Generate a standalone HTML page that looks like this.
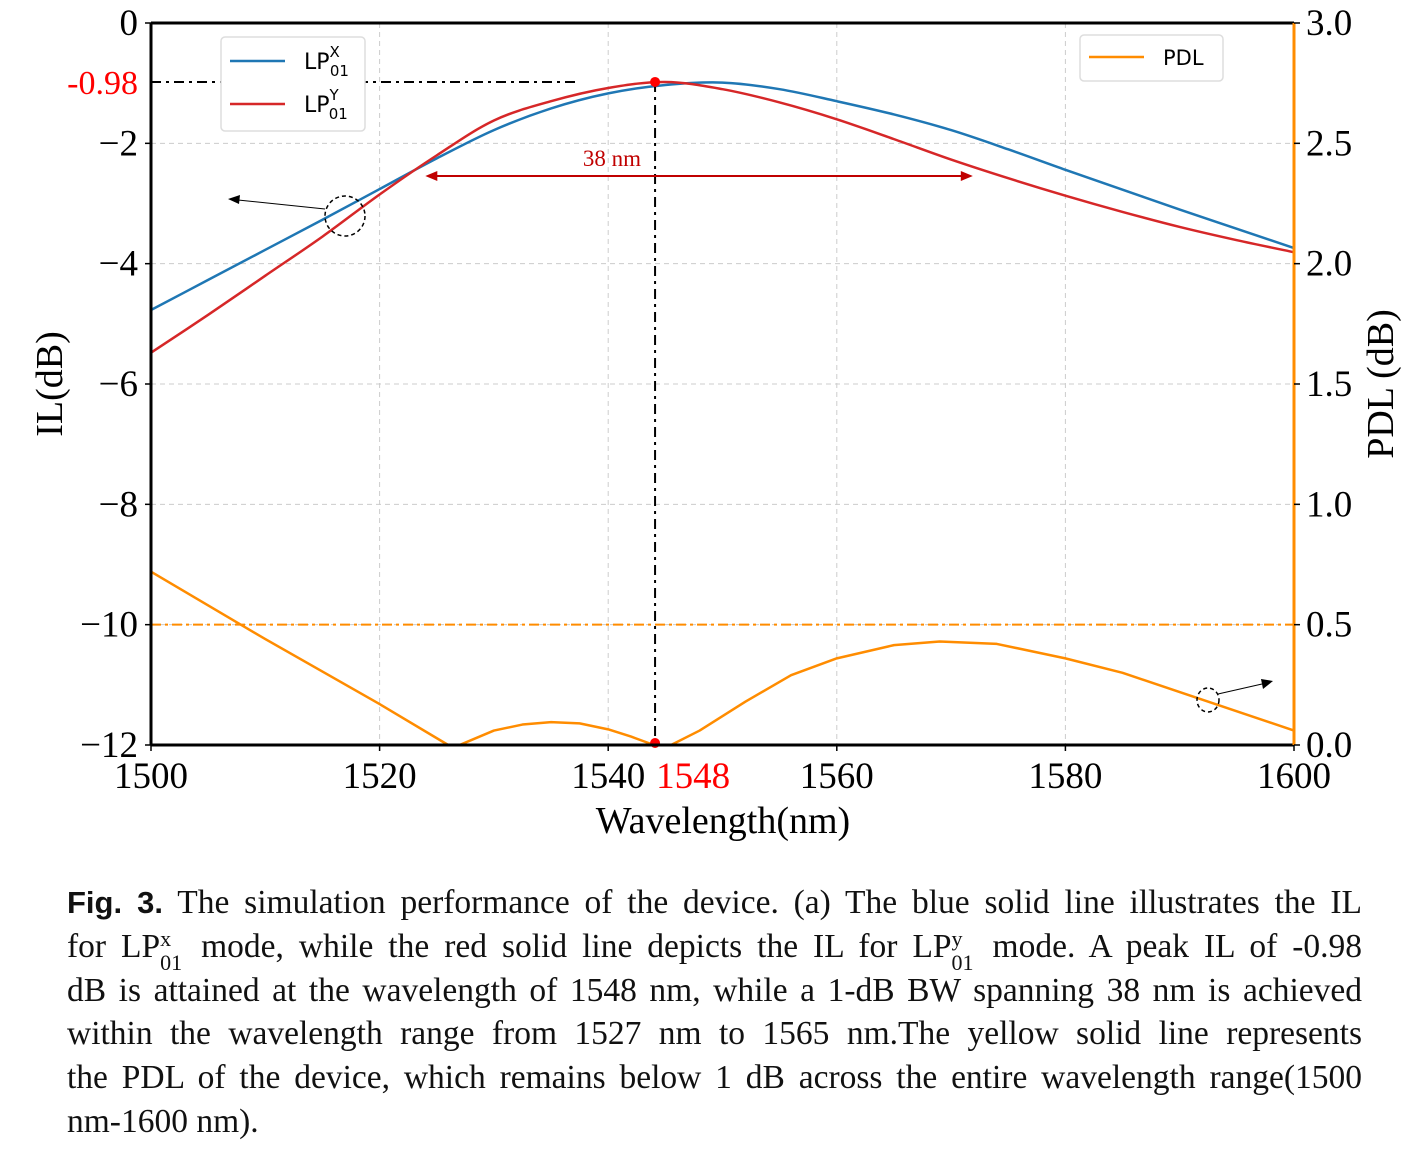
<!DOCTYPE html>
<html><head><meta charset="utf-8"><style>
body{margin:0;background:#fff;width:1415px;height:1153px;overflow:hidden;font-family:"Liberation Serif",serif}
.cap{position:absolute;left:67px;width:1295px;font-size:33.5px;line-height:44px;height:44px;color:#111;text-align:justify;text-align-last:justify;white-space:nowrap}
.cap.last{text-align-last:left}
.ss{display:inline-block;position:relative;width:26px;height:10px;font-size:22px}
.ss i{font-style:normal;position:absolute;left:0}
</style></head><body>
<svg id="chart" width="1415" height="860" style="position:absolute;left:0;top:0"></svg>
<div>
<div class="cap" style="top:881px"><b style="font-family:'Liberation Sans',sans-serif;font-size:31px">Fig. 3.</b> The simulation performance of the device. (a) The blue solid line illustrates the IL</div>
<div class="cap" style="top:925px">for LP<span class="ss"><i style="top:-30px">x</i><i style="top:-6px">01</i></span> mode, while the red solid line depicts the IL for LP<span class="ss"><i style="top:-30px">y</i><i style="top:-6px">01</i></span> mode. A peak IL of -0.98</div>
<div class="cap" style="top:969px">dB is attained at the wavelength of 1548 nm, while a 1-dB BW spanning 38 nm is achieved</div>
<div class="cap" style="top:1012px">within the wavelength range from 1527 nm to 1565 nm.The yellow solid line represents</div>
<div class="cap" style="top:1056px">the PDL of the device, which remains below 1 dB across the entire wavelength range(1500</div>
<div class="cap last" style="top:1100px">nm-1600 nm).</div>
</div>
<script>
const wlX=[1500,1505,1510,1515,1520,1525,1530,1535,1540,1545,1550,1555,1560,1565,1570,1575,1580,1585,1590,1595,1600];
const ilX=[-4.77,-4.27,-3.77,-3.27,-2.76,-2.25,-1.78,-1.42,-1.17,-1.03,-0.99,-1.1,-1.3,-1.52,-1.78,-2.1,-2.44,-2.77,-3.1,-3.42,-3.74];
const ilY=[-5.48,-4.85,-4.2,-3.55,-2.85,-2.2,-1.62,-1.3,-1.08,-0.98,-1.1,-1.32,-1.6,-1.93,-2.27,-2.58,-2.87,-3.14,-3.39,-3.61,-3.81];
const wlP=[1500,1510,1520,1526,1527,1528,1530,1532.5,1535,1537.5,1540,1542,1544,1545.5,1548,1552,1556,1560,1565,1569,1574,1580,1585,1590,1595,1600];
const pdl=[0.72,0.44,0.17,0.0,0.0,0.02,0.06,0.085,0.095,0.09,0.065,0.035,0.0,0.0,0.06,0.18,0.29,0.36,0.415,0.43,0.42,0.36,0.3,0.22,0.14,0.06];
const xTicks=[1500,1520,1540,1560,1580,1600];
const yTicks=[0,-2,-4,-6,-8,-10,-12];
const pTicks=[0,0.5,1.0,1.5,2.0,2.5,3.0];
const peakWl=1544.1, peakIL=-0.98, bwStart=1524, bwEnd=1571.9;
const L=151,R=1294,T=23,B=745;
const sx=w=>L+(w-1500)/100*(R-L);
const sy=v=>T+(-v)/12*(B-T);
const sp=p=>B-p/3*(B-T);
const svg=document.getElementById('chart');
const NS='http://www.w3.org/2000/svg';
function mk(tag,a,parent){const e=document.createElementNS(NS,tag);for(const k in a)e.setAttribute(k,a[k]);(parent||svg).appendChild(e);return e;}
function path(xs,ys){const p=xs.map((x,i)=>[x,ys[i]]);let d='M'+p[0][0]+','+p[0][1];for(let i=0;i<p.length-1;i++){const p0=p[i-1]||p[i],p1=p[i],p2=p[i+1],p3=p[i+2]||p2;d+=` C${p1[0]+(p2[0]-p0[0])/6},${p1[1]+(p2[1]-p0[1])/6} ${p2[0]-(p3[0]-p1[0])/6},${p2[1]-(p3[1]-p1[1])/6} ${p2[0]},${p2[1]}`;}return d;}
function lpath(xs,ys){return xs.map((x,i)=>(i?'L':'M')+x+','+ys[i]).join(' ');}
xTicks.forEach(t=>{const g=mk('line',{x1:sx(t),x2:sx(t),y1:T,y2:B,stroke:'#ccc','stroke-dasharray':'5,4','stroke-width':1});
});
yTicks.forEach(t=>{const g=mk('line',{x1:L,x2:R,y1:sy(t),y2:sy(t),stroke:'#ccc','stroke-dasharray':'5,4','stroke-width':1});
});
let e=mk('line',{x1:L,x2:R,y1:sp(0.5),y2:sp(0.5),stroke:'#ff8c00','stroke-width':2,'stroke-dasharray':'10,4,3,4'});

e=mk('path',{d:path(wlX.map(sx),ilX.map(sy)),fill:'none',stroke:'#1f77b4','stroke-width':2.5});

e=mk('path',{d:path(wlX.map(sx),ilY.map(sy)),fill:'none',stroke:'#d62728','stroke-width':2.5});

e=mk('path',{d:lpath(wlP.map(sx),pdl.map(sp)),fill:'none',stroke:'#ff8c00','stroke-width':2.5,'stroke-linejoin':'round'});

e=mk('line',{x1:L,x2:575,y1:sy(peakIL),y2:sy(peakIL),stroke:'#000','stroke-width':2,'stroke-dasharray':'10,5,3,5'});

e=mk('line',{x1:sx(peakWl),x2:sx(peakWl),y1:sy(peakIL),y2:B,stroke:'#000','stroke-width':2,'stroke-dasharray':'10,5,3,5'});

e=mk('circle',{cx:sx(peakWl),cy:sy(peakIL),r:5,fill:'red'});

e=mk('circle',{cx:sx(peakWl),cy:B-2,r:5,fill:'red'});

const ay=176;
e=mk('line',{x1:sx(bwStart)+8,x2:sx(bwEnd)-8,y1:ay,y2:ay,stroke:'#c00000','stroke-width':2});

mk('polygon',{points:`${sx(bwStart)},${ay} ${sx(bwStart)+12},${ay-5} ${sx(bwStart)+12},${ay+5}`,fill:'#c00000'});
mk('polygon',{points:`${sx(bwEnd)},${ay} ${sx(bwEnd)-12},${ay-5} ${sx(bwEnd)-12},${ay+5}`,fill:'#c00000'});
e=mk('text',{x:612,y:166,'font-size':23,fill:'#c00000','text-anchor':'middle','font-family':'Liberation Serif,serif'});e.textContent='38 nm';

e=mk('ellipse',{cx:345,cy:216,rx:20,ry:20,fill:'none',stroke:'#000','stroke-width':1.5,'stroke-dasharray':'4,3'});

mk('line',{x1:325,y1:209,x2:238,y2:200,stroke:'#000','stroke-width':1});
mk('polygon',{points:'228,199 240,195 239,204',fill:'#000'});
e=mk('ellipse',{cx:1208,cy:700,rx:11,ry:12,fill:'none',stroke:'#000','stroke-width':1.5,'stroke-dasharray':'4,3'});

mk('line',{x1:1218,y1:694,x2:1262,y2:684,stroke:'#000','stroke-width':1});
mk('polygon',{points:'1273,681 1261,679 1263,689',fill:'#000'});
mk('line',{x1:L,x2:R,y1:T,y2:T,stroke:'#000','stroke-width':3});
mk('line',{x1:L,x2:L,y1:T,y2:B,stroke:'#000','stroke-width':3});
mk('line',{x1:L,x2:R,y1:B,y2:B,stroke:'#000','stroke-width':3});
e=mk('line',{x1:R,x2:R,y1:T,y2:B,stroke:'#ff8c00','stroke-width':3});

xTicks.forEach(t=>{mk('line',{x1:sx(t),x2:sx(t),y1:B,y2:B+6,stroke:'#000','stroke-width':1.5});
const tx=mk('text',{x:sx(t),y:788,'font-size':37,'text-anchor':'middle','font-family':'Liberation Serif,serif'});tx.textContent=t;
});
e=mk('text',{x:sx(peakWl)+38,y:788,'font-size':37,'text-anchor':'middle',fill:'red','font-family':'Liberation Serif,serif'});e.textContent='1548';

yTicks.forEach(t=>{mk('line',{x1:L-6,x2:L,y1:sy(t),y2:sy(t),stroke:'#000','stroke-width':1.5});
const tx=mk('text',{x:138,y:sy(t)+12,'font-size':37,'text-anchor':'end','font-family':'Liberation Serif,serif'});tx.textContent=t<0?'\u2212'+(-t):t;
});
e=mk('text',{x:138,y:sy(peakIL)+12,'font-size':34,'text-anchor':'end',fill:'red','font-family':'Liberation Serif,serif'});e.textContent='-0.98';

pTicks.forEach(t=>{mk('line',{x1:R,x2:R+6,y1:sp(t),y2:sp(t),stroke:'#000','stroke-width':1.5});
const tx=mk('text',{x:1306,y:sp(t)+12,'font-size':37,'font-family':'Liberation Serif,serif'});tx.textContent=t.toFixed(1);
});
e=mk('text',{x:723,y:833,'font-size':38,'text-anchor':'middle','font-family':'Liberation Serif,serif'});e.textContent='Wavelength(nm)';

e=mk('text',{x:0,y:0,'font-size':38,'text-anchor':'middle','font-family':'Liberation Serif,serif',transform:'translate(62,384) rotate(-90)'});e.textContent='IL(dB)';

e=mk('text',{x:0,y:0,'font-size':38,'text-anchor':'middle','font-family':'Liberation Serif,serif',transform:'translate(1393,384) rotate(-90)'});e.textContent='PDL (dB)';

const lg=mk('g',{});
mk('rect',{x:221,y:37,width:144,height:94,rx:4,fill:'#fff',stroke:'#ddd','stroke-width':1.5},lg);
mk('line',{x1:230,x2:285,y1:61,y2:61,stroke:'#1f77b4','stroke-width':2.5},lg);
mk('line',{x1:230,x2:285,y1:104,y2:104,stroke:'#d62728','stroke-width':2.5},lg);
[['X',69],['Y',112]].forEach(([s,y])=>{const t=mk('text',{x:304,y:y,'font-size':22,'font-family':'DejaVu Sans,sans-serif'},lg);t.innerHTML=`LP<tspan dy="-12" font-size="15">${s}</tspan><tspan dx="-10" dy="19" font-size="15">01</tspan>`;
});
const lg2=mk('g',{});
mk('rect',{x:1080,y:35,width:143,height:46,rx:4,fill:'#fff',stroke:'#ddd','stroke-width':1.5},lg2);
mk('line',{x1:1089,x2:1144,y1:57,y2:57,stroke:'#ff8c00','stroke-width':2.5},lg2);
e=mk('text',{x:1163,y:65,'font-size':21,'font-family':'DejaVu Sans,sans-serif'},lg2);e.textContent='PDL';

</script>
</body></html>
